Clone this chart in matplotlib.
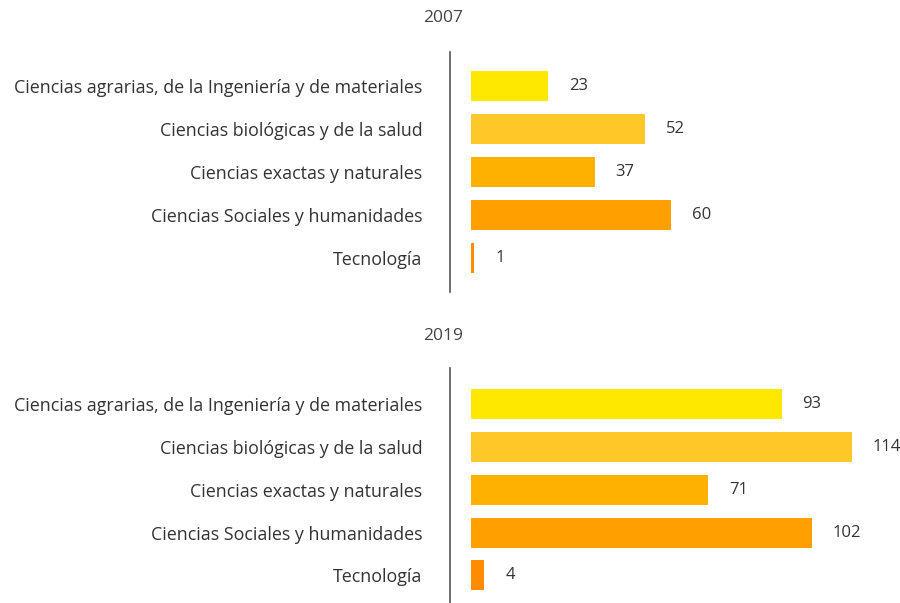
"""Horizontal bar chart: categorias por area, 2007 y 2019"""
import matplotlib
matplotlib.use("Agg")
import matplotlib.pyplot as plt

# Categories and values
categories = [
    "Ciencias agrarias, de la Ingeniería y de materiales",
    "Ciencias biológicas y de la salud",
    "Ciencias exactas y naturales",
    "Ciencias Sociales y humanidades",
    "Tecnología",
]
years = ["2007", "2019"]
values_2007 = [23, 52, 37, 60, 1]
values_2019 = [93, 114, 71, 102, 4]
bar_colors = ["#FFE800", "#FFC829", "#FFB100", "#FFA000", "#FF8C00"]

plt.rcParams["font.family"] = ["Open Sans", "DejaVu Sans"]
text_color = "#333333"

fig = plt.figure(figsize=(9, 6.03), dpi=100)

# axes boxes in figure fractions: [left, bottom, width, height]
boxes = [[0.5, 0.5158, 0.5, 0.398], [0.5, -0.0144, 0.5, 0.404]]
ylims = [(4.8, -0.8), (4.85, -0.85)]
title_y = [1 - 18 / 603, 1 - 336 / 603]

for year, vals, box, yl, ty in zip(years, [values_2007, values_2019], boxes, ylims, title_y):
    ax = fig.add_axes(box)
    pos = list(range(len(categories)))
    ax.barh(pos, vals, height=0.7, color=bar_colors)
    for p, v in zip(pos, vals):
        ax.annotate(str(v), (v, p), xytext=(15, 0), textcoords="offset points",
                    ha="left", va="center", fontsize=12, color=text_color)
    ax.set_xlim(-6.3, 128.4)
    ax.set_ylim(*yl)
    ax.set_yticks(pos)
    ax.set_yticklabels(categories, fontsize=12.9, color=text_color,
                       va="center_baseline")
    ax.tick_params(axis="y", length=0, pad=20)
    ax.set_xticks([])
    for side in ["top", "right", "bottom"]:
        ax.spines[side].set_visible(False)
    ax.spines["left"].set_color("#555555")
    ax.spines["left"].set_linewidth(1.2)
    fig.text(443 / 900, ty, year, ha="center", va="center", fontsize=12.5, color="#444444")

fig.savefig("out.png", dpi=100)
